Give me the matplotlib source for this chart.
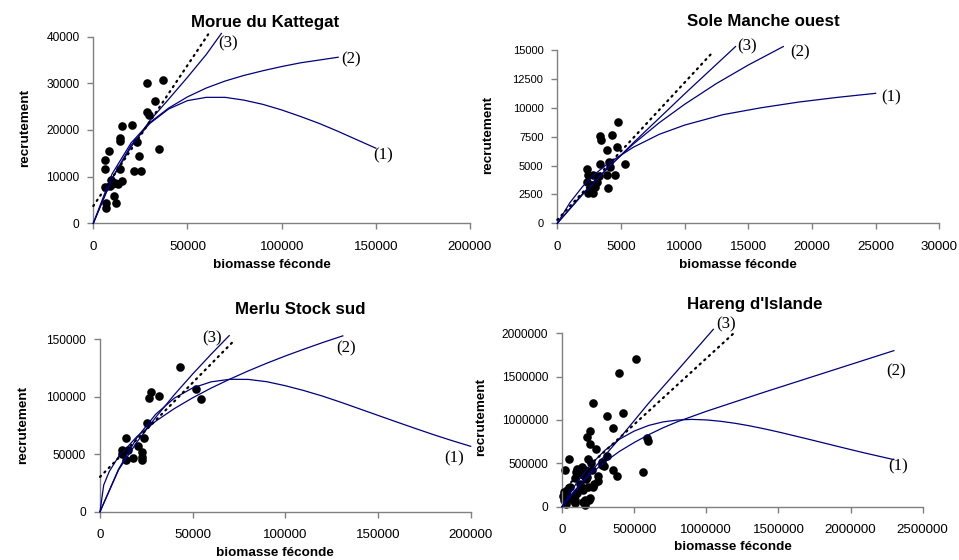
import numpy as np
import matplotlib.pyplot as plt

plt.rcParams['font.family'] = ['Liberation Sans', 'DejaVu Sans']

W, H = 959, 560

# ---- Morue du Kattegat ----
morue_ssb = [6200, 6200, 8500, 6200, 6700, 6700, 8900, 9900, 11500, 13100, 11200, 12000,
             14200, 14200, 15100, 14200, 15100, 20700, 23000, 24100, 21800, 25200,
             28700, 36800, 32800, 28700, 29700, 34700, 9500]
morue_rec = [13600, 11600, 15400, 7800, 4400, 3200, 8000, 8400, 8600, 8400, 5900, 4400,
             18200, 17700, 20900, 11700, 9100, 21000, 17500, 14500, 11300, 11300,
             30100, 30700, 26200, 23800, 23200, 15900, 9200]
morue_s1 = [0, 10000, 20000, 30000, 40000, 50000, 60000, 70000, 80000, 90000, 100000,
            110000, 120000, 130000, 140000, 150000]
morue_r1 = [0, 9700, 16700, 21400, 24500, 26300, 27000, 27000, 26400, 25500, 24300,
            22900, 21400, 19700, 17900, 16100]
morue_s2 = [0, 10000, 20000, 30000, 40000, 50000, 60000, 70000, 80000, 90000, 100000,
            110000, 120000, 130000]
morue_r2 = [0, 10600, 17200, 21600, 24700, 27100, 29000, 30500, 31700, 32700, 33600,
            34400, 35000, 35600]
morue_s3 = [0, 10000, 20000, 30000, 40000, 50000, 60000, 68000]
morue_r3 = [0, 9600, 16300, 22000, 26600, 31300, 36200, 40700]
morue_sd = [0, 61000]
morue_rd = [3700, 40500]

# ---- Sole Manche ouest ----
sole_ssb = [4790, 3350, 3430, 4320, 3880, 4660, 5320, 3350, 4080, 4140, 3880, 4530, 4000,
            2310, 2430, 2830, 3270, 2310, 2700, 2960, 2430, 2830, 2570, 3090]
sole_rec = [8790, 7560, 7210, 7640, 6340, 6630, 5130, 5130, 5330, 4900, 4180, 4180, 3030,
            4670, 4180, 4180, 4090, 3600, 3310, 3170, 2600, 2600, 2880, 3600]
sole_s1 = [0, 1000, 2000, 3000, 4000, 5000, 6000, 8000, 10000, 13000, 16000, 19000, 22000, 25000]
sole_r1 = [0, 1800, 3200, 4300, 5200, 5900, 6600, 7700, 8500, 9400, 10000, 10500, 10900, 11250]
sole_s2 = [0, 2000, 4000, 6000, 8000, 10000, 12500, 15000, 17750]
sole_r2 = [0, 2580, 4860, 6890, 8700, 10300, 12100, 13700, 15300]
sole_s3 = [0, 2000, 4000, 6000, 8000, 10000, 12000, 14000]
sole_r3 = [0, 2500, 4800, 7000, 9100, 11200, 13250, 15300]
sole_sd = [0, 12250]
sole_rd = [300, 14860]

# ---- Merlu Stock sud ----
merlu_ssb = [43200, 27300, 26600, 31700, 51800, 54300, 25500, 14000, 23700, 20700, 11700,
             15300, 22500, 11700, 22500, 17600, 14000, 22500]
merlu_rec = [125600, 104400, 98700, 100900, 106500, 98000, 77400, 63900, 63900, 57200, 53700,
             53700, 52200, 50200, 47900, 47000, 45000, 45000]
merlu_s1 = [0, 10000, 20000, 30000, 40000, 50000, 60000, 70000, 80000, 90000, 100000, 110000,
            120000, 130000, 140000, 150000, 160000, 170000, 180000, 190000, 200000]
merlu_r1 = [0, 37000, 64600, 84700, 98700, 107700, 113000, 115200, 115100, 113100, 109600,
            105400, 100600, 95200, 89500, 83800, 78100, 72500, 67000, 61800, 56900]
merlu_s2 = [0, 2000, 5000, 10000, 20000, 30000, 40000, 50000, 60000, 70000, 80000, 90000,
            100000, 110000, 120000, 131000]
merlu_r2 = [0, 23200, 35000, 47900, 65500, 78700, 89600, 99100, 107600, 115300, 122500,
            129200, 135500, 141400, 147100, 153000]
merlu_s3 = [0, 10000, 20000, 30000, 40000, 50000, 60000, 69700]
merlu_r3 = [0, 36300, 60800, 82000, 101600, 119800, 137100, 153200]
merlu_sd = [0, 72300]
merlu_rd = [30300, 148800]

# ---- Hareng d'Islande ----
hareng_ssb = [510000, 395000, 217000, 310000, 425000, 356000, 195000, 175000, 194000, 236000,
              51000, 21000, 183000, 310000, 275000, 290000, 356000, 379000, 252000, 559000,
              591000, 598000, 102000, 125000, 90000, 148000, 171000, 136000, 97000, 206000,
              166000, 182000, 217000, 130000, 148000, 55000, 32000, 14000, 33000, 90000,
              9000, 14000, 21000, 28000, 78000, 90000, 102000, 148000, 160000, 189000,
              159000, 90000, 194000, 225000, 125000, 60000, 250000, 280000, 200000, 160000]
hareng_rec = [1700000, 1540000, 1200000, 1047000, 1075000, 905000, 875000, 800000, 720000, 665000,
              547000, 424000, 547000, 590000, 485000, 470000, 424000, 354000, 354000, 404000,
              790000, 760000, 431000, 385000, 330000, 365000, 346000, 462000, 404000, 424000,
              316000, 231000, 231000, 231000, 193000, 223000, 192000, 173000, 135000, 135000,
              123000, 77000, 77000, 31000, 77000, 77000, 154000, 58000, 77000, 77000,
              20000, 39000, 96000, 260000, 262000, 100000, 300000, 520000, 500000, 420000]
hareng_s1 = [0, 100000, 200000, 300000, 400000, 500000, 600000, 700000, 800000, 900000,
             1000000, 1100000, 1200000, 1300000, 1400000, 1500000, 1600000, 1700000,
             1800000, 1900000, 2000000, 2100000, 2200000, 2300000]
hareng_r1 = [0, 272000, 487000, 654000, 780000, 872000, 937000, 978000, 1000000, 1007000,
             1001000, 985000, 962000, 933000, 899000, 862000, 822000, 782000, 741000, 700000,
             659000, 619000, 581000, 543000]
hareng_s2 = [0, 100000, 200000, 300000, 400000, 500000, 600000, 700000, 800000, 900000,
             1000000, 1200000, 1400000, 1700000, 2000000, 2300000]
hareng_r2 = [0, 210000, 380000, 520000, 640000, 740000, 830000, 910000, 980000, 1040000,
             1100000, 1210000, 1320000, 1480000, 1640000, 1800000]
hareng_s3 = [0, 200000, 400000, 600000, 800000, 1049000]
hareng_r3 = [0, 400000, 790000, 1193000, 1571000, 2046000]
hareng_sd = [0, 1190000]
hareng_rd = [187000, 2000000]

NAVY = '#000080'
GREY = '#808080'


def px_axes(fig, left, top, right, bottom):
    return fig.add_axes([left / W, 1 - bottom / H, (right - left) / W, (bottom - top) / H])


def panel(ax, ssb, rec, curves, dotted, xmax, xstep, ymax, ystep, tags, ysize=8.6):
    for s, r in curves:
        ax.plot(s, r, color=NAVY, lw=0.9, clip_on=False, zorder=3)
    ax.plot(dotted[0], dotted[1], color='black', lw=1.6, linestyle=(0, (0.6, 2.2)),
            dash_capstyle='round', clip_on=False, zorder=3)
    ax.plot(ssb, rec, 'o', color='black', ms=6.2, mew=0, clip_on=False, zorder=2)
    ax.set_xlim(0, xmax)
    ax.set_ylim(0, ymax)
    xt = np.arange(0, xmax + 1, xstep)
    yt = np.arange(0, ymax + 1, ystep)
    ax.set_xticks(xt)
    ax.set_xticklabels([str(int(v)) for v in xt])
    ax.set_yticks(yt)
    ax.set_yticklabels([str(int(v)) for v in yt])
    for side in ['top', 'right']:
        ax.spines[side].set_visible(False)
    for side in ['left', 'bottom']:
        ax.spines[side].set_color(GREY)
        ax.spines[side].set_linewidth(1.0)
    ax.tick_params(direction='out', length=4, width=1.0, color=GREY)
    ax.tick_params(axis='x', pad=8.5, labelsize=9.6)
    ax.tick_params(axis='y', pad=6, labelsize=ysize)
    for txt, x, y in tags:
        ax.text(x, y, txt, family='Liberation Serif', fontsize=12.2,
                ha='center', va='center', zorder=4)


fig = plt.figure(figsize=(W / 100, H / 100), dpi=100)

ax1 = px_axes(fig, 93.3, 36.7, 470, 223.3)
panel(ax1, morue_ssb, morue_rec,
      [(morue_s1, morue_r1), (morue_s2, morue_r2), (morue_s3, morue_r3)],
      (morue_sd, morue_rd), 200000, 50000, 40000, 10000,
      [('(3)', 71600, 38600), ('(2)', 137000, 35100), ('(1)', 153700, 14600)])

ax2 = px_axes(fig, 557.3, 50, 939.3, 223.3)
panel(ax2, sole_ssb, sole_rec,
      [(sole_s1, sole_r1), (sole_s2, sole_r2), (sole_s3, sole_r3)],
      (sole_sd, sole_rd), 30000, 5000, 15000, 2500,
      [('(3)', 14870, 15290), ('(2)', 19060, 14800), ('(1)', 26200, 10880)], ysize=8.0)

ax3 = px_axes(fig, 100, 339.3, 470.7, 511.7)
panel(ax3, merlu_ssb, merlu_rec,
      [(merlu_s1, merlu_r1), (merlu_s2, merlu_r2), (merlu_s3, merlu_r3)],
      (merlu_sd, merlu_rd), 200000, 50000, 150000, 50000,
      [('(3)', 60700, 151100), ('(2)', 132700, 142500), ('(1)', 191100, 46200)])

ax4 = px_axes(fig, 562, 333.3, 922.7, 506.7)
panel(ax4, hareng_ssb, hareng_rec,
      [(hareng_s1, hareng_r1), (hareng_s2, hareng_r2), (hareng_s3, hareng_r3)],
      (hareng_sd, hareng_rd), 2500000, 500000, 2000000, 500000,
      [('(3)', 1137000, 2104000), ('(2)', 2316000, 1558000), ('(1)', 2332000, 461500)])

# titles and axis labels, placed in figure pixels
titles = [("Morue du Kattegat", 265, 22), ("Sole Manche ouest", 763, 22),
          ("Merlu Stock sud", 300, 310), ("Hareng d'Islande", 754.5, 305)]
for t, x, y in titles:
    fig.text(x / W, 1 - y / H, t, ha='center', va='center', fontsize=12.2, fontweight='bold')

xlabels = [(271.5, 265), (738, 265), (275, 553), (733.3, 546.7)]
for x, y in xlabels:
    fig.text(x / W, 1 - y / H, 'biomasse féconde', ha='center', va='center',
             fontsize=9.7, fontweight='bold')

ylabels = [(25, 128), (488, 135), (23.3, 425), (481, 416.7)]
for x, y in ylabels:
    fig.text(x / W, 1 - y / H, 'recrutement', ha='center', va='center',
             fontsize=9.7, fontweight='bold', rotation=90)

fig.savefig('out.png', dpi=100)
